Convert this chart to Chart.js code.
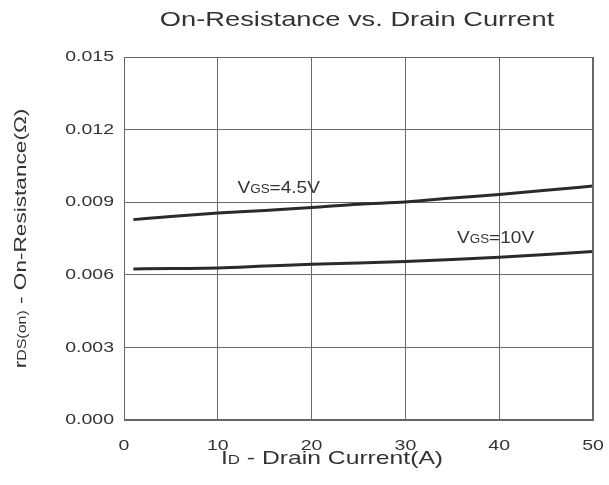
<!DOCTYPE html>
<html>
<head>
<meta charset="utf-8">
<script src="https://cdn.jsdelivr.net/npm/chart.js@4/dist/chart.umd.min.js"></script>
<style>
html,body{margin:0;padding:0;background:#fff;}
#wrap{width:609px;height:485px;position:relative;}
</style>
</head>
<body>
<div id="wrap"><canvas id="c" width="609" height="485"></canvas></div>
<script>
// ---- data ----
const currentA = [1, 5, 10, 15, 20, 25, 30, 35, 40, 45, 50];
const rdsVgs45 = [0.00828, 0.00841, 0.00855, 0.00866, 0.00878, 0.00892, 0.00901, 0.00917, 0.00932, 0.00949, 0.00967];
const rdsVgs10 = [0.00624, 0.00626, 0.00628, 0.00636, 0.00644, 0.00649, 0.00655, 0.00663, 0.00673, 0.00684, 0.00696];
const xTickVals = [0, 10, 20, 30, 40, 50];
const yTickVals = [0.000, 0.003, 0.006, 0.009, 0.012, 0.015];
const seriesNames = ['VGS=4.5V', 'VGS=10V'];
// label anchors (data units): [x, y]
const labelAnchors = [[12.1, 0.00938], [35.5, 0.00731]];

const FONT = '"Liberation Sans", Arial, Helvetica, sans-serif';
const TXT = '#333333';
let SX = 1.3;

const canvas = document.getElementById('c');
const ctx = canvas.getContext('2d');
const origFill = ctx.fillText.bind(ctx);
ctx.fillText = function (t, x, y) {
  ctx.save();
  ctx.translate(x, y);
  ctx.scale(SX, 1);
  origFill(t, 0, 0);
  ctx.restore();
};

function drawRich(c, segs, x, y, align, sx) {
  SX = sx;
  let total = 0;
  segs.forEach(s => {
    c.font = s.size + 'px ' + FONT;
    s.w = c.measureText(s.t).width * sx;
    total += s.w;
  });
  let cur = align === 'center' ? x - total / 2 : (align === 'right' ? x - total : x);
  c.textAlign = 'left';
  c.textBaseline = 'alphabetic';
  segs.forEach(s => {
    c.font = s.size + 'px ' + FONT;
    c.fillText(s.t, cur, y + (s.dy || 0));
    cur += s.w;
  });
  SX = 1.3;
}

const textPlugin = {
  id: 'texts',
  afterDraw(chart) {
    const c = chart.ctx;
    const xs = chart.scales.x, ys = chart.scales.y;
    const ca = chart.chartArea;
    c.save();
    c.fillStyle = TXT;
    // title
    drawRich(c, [{t: 'On-Resistance vs. Drain Current', size: 21}], 357, 26, 'center', 1.3);
    // x title
    drawRich(c, [{t: 'I', size: 19}, {t: 'D', size: 13}, {t: ' - Drain Current(A)', size: 19}], 332, 464, 'center', 1.3);
    // y title
    c.save();
    c.translate(26, (ca.top + ca.bottom) / 2);
    c.rotate(-Math.PI / 2);
    drawRich(c, [{t: 'r', size: 17}, {t: 'DS(on)', size: 12}, {t: ' - On-Resistance(Ω)', size: 17}], 0, 0, 'center', 1.33);
    c.restore();
    // series labels
    seriesNames.forEach((n, i) => {
      const px = xs.getPixelForValue(labelAnchors[i][0]);
      const py = ys.getPixelForValue(labelAnchors[i][1]);
      drawRich(c, [{t: 'V', size: 17}, {t: 'GS', size: 12}, {t: n.slice(3), size: 17}], px, py, 'left', 1.12);
    });
    c.restore();
  }
};

const borderPlugin = {
  id: 'frame',
  afterDatasetsDraw(chart) {
    const c = chart.ctx, a = chart.chartArea;
    c.save();
    c.strokeStyle = '#666666';
    c.lineWidth = 1;
    c.strokeRect(Math.round(a.left) + 0.5, Math.round(a.top) + 0.5, Math.round(a.right - a.left) - 1, Math.round(a.bottom - a.top) - 1);
    c.restore();
  }
};

new Chart(ctx, {
  type: 'line',
  data: {
    datasets: [
      {label: seriesNames[0], data: currentA.map((x, i) => ({x, y: rdsVgs45[i]})), borderColor: '#2b2b2b', borderWidth: 3, pointRadius: 0, tension: 0.4, cubicInterpolationMode: 'monotone', fill: false},
      {label: seriesNames[1], data: currentA.map((x, i) => ({x, y: rdsVgs10[i]})), borderColor: '#2b2b2b', borderWidth: 3, pointRadius: 0, tension: 0.4, cubicInterpolationMode: 'monotone', fill: false}
    ]
  },
  options: {
    responsive: false,
    animation: false,
    devicePixelRatio: 1,
    layout: {autoPadding: false, padding: {top: 57, right: 16, left: 0, bottom: 0}},
    plugins: {legend: {display: false}, title: {display: false}, tooltip: {enabled: false}},
    scales: {
      x: {
        type: 'linear', min: 0, max: 50,
        afterBuildTicks: s => { s.ticks = xTickVals.map(v => ({value: v})); },
        afterFit: s => { s.height = 65; s.paddingLeft = 0; s.paddingRight = 0; },
        grid: {color: '#6a6a6a', lineWidth: 1, drawTicks: false},
        border: {display: true, color: '#666666'},
        ticks: {font: {size: 15, family: FONT}, color: TXT, padding: 17, maxRotation: 0, callback: v => String(v)}
      },
      y: {
        type: 'linear', min: 0, max: 0.015,
        afterBuildTicks: s => { s.ticks = yTickVals.map(v => ({value: v})); },
        afterFit: s => { s.width = 124; s.paddingTop = 0; s.paddingBottom = 0; },
        grid: {color: '#6a6a6a', lineWidth: 1, drawTicks: false},
        border: {display: true, color: '#666666'},
        ticks: {font: {size: 15, family: FONT}, color: TXT, padding: 10, callback: v => v.toFixed(3)}
      }
    }
  },
  plugins: [textPlugin, borderPlugin]
});
</script>
</body>
</html>
